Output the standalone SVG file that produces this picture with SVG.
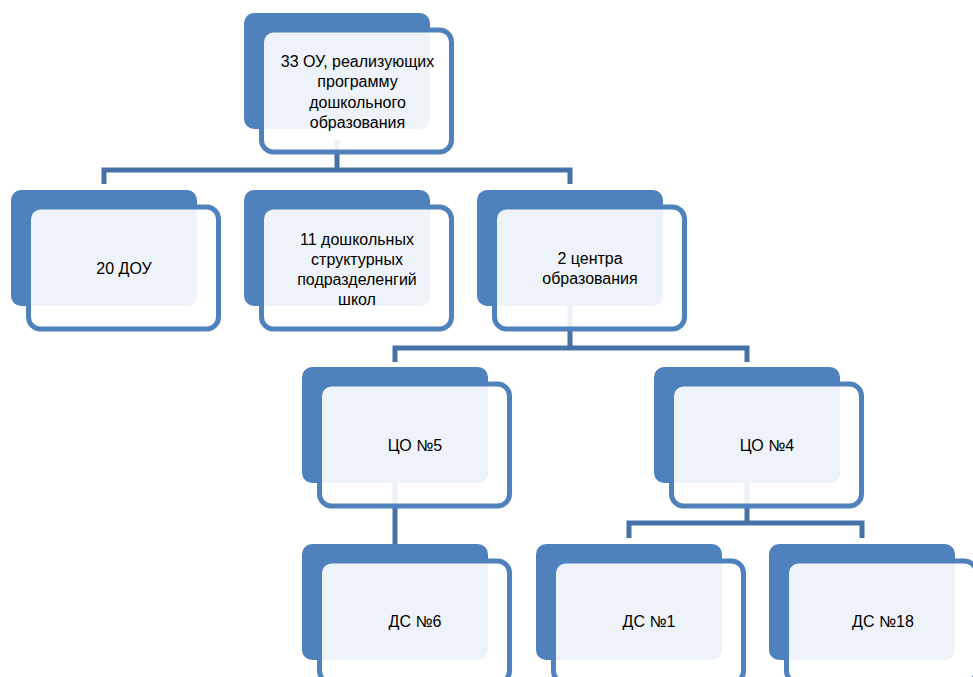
<svg xmlns="http://www.w3.org/2000/svg" width="973" height="677" viewBox="0 0 973 677">
<style>
.bk{fill:#4F81BD;}
.fr{fill:#FFFFFF;fill-opacity:0.9;stroke:#4F81BD;stroke-width:5;}
.cn{fill:none;stroke:#4672A8;stroke-width:5;stroke-linejoin:miter;}
text{font-family:"Liberation Sans",Arial,sans-serif;font-size:16px;fill:#000;text-anchor:middle;dominant-baseline:central;}
</style>
<rect width="973" height="677" fill="#FFFFFF"/>
<g id="connectors">
<path class="cn" d="M104,184 V170 H570 V184 M337,140 V170"/>
<path class="cn" d="M395,362 V348 H747 V362 M570,300 V348"/>
<path class="cn" d="M395,470 V545"/>
<path class="cn" d="M629,538 V523 H862 V538 M747,470 V523"/>
</g>
<g id="n-top">
<rect class="bk" x="244" y="13" width="186" height="116" rx="10"/>
<rect class="fr" x="261.5" y="30" width="190" height="122" rx="12"/>
<text x="357.5" y="61">33 ОУ, реализующих</text>
<text x="357.5" y="81.5">программу</text>
<text x="357.5" y="102">дошкольного</text>
<text x="357.5" y="122">образования</text>
</g>
<g id="n-dou">
<rect class="bk" x="11" y="190" width="186" height="116" rx="10"/>
<rect class="fr" x="28.5" y="207" width="190" height="122" rx="12"/>
<text x="124" y="268">20 ДОУ</text>
</g>
<g id="n-school">
<rect class="bk" x="244" y="190" width="186" height="116" rx="10"/>
<rect class="fr" x="261.5" y="207" width="190" height="122" rx="12"/>
<text x="357" y="239">11 дошкольных</text>
<text x="357" y="259">структурных</text>
<text x="357" y="279">подразделенгий</text>
<text x="357" y="299">школ</text>
</g>
<g id="n-centers">
<rect class="bk" x="477" y="190" width="186" height="116" rx="10"/>
<rect class="fr" x="494.5" y="207" width="190" height="122" rx="12"/>
<text x="590" y="258">2 центра</text>
<text x="590" y="278">образования</text>
</g>
<g id="n-co5">
<rect class="bk" x="302" y="367" width="186" height="116" rx="10"/>
<rect class="fr" x="319.5" y="384" width="190" height="122" rx="12"/>
<text x="415" y="445">ЦО №5</text>
</g>
<g id="n-co4">
<rect class="bk" x="654" y="367" width="186" height="116" rx="10"/>
<rect class="fr" x="671.5" y="384" width="190" height="122" rx="12"/>
<text x="767" y="445">ЦО №4</text>
</g>
<g id="n-ds6">
<rect class="bk" x="302" y="544" width="186" height="116" rx="10"/>
<rect class="fr" x="319.5" y="561" width="190" height="122" rx="12"/>
<text x="415" y="621">ДС №6</text>
</g>
<g id="n-ds1">
<rect class="bk" x="536" y="544" width="186" height="116" rx="10"/>
<rect class="fr" x="553.5" y="561" width="190" height="122" rx="12"/>
<text x="649" y="621">ДС №1</text>
</g>
<g id="n-ds18">
<rect class="bk" x="769" y="544" width="186" height="116" rx="10"/>
<rect class="fr" x="786.5" y="561" width="190" height="122" rx="12"/>
<text x="883" y="621">ДС №18</text>
</g>
</svg>
